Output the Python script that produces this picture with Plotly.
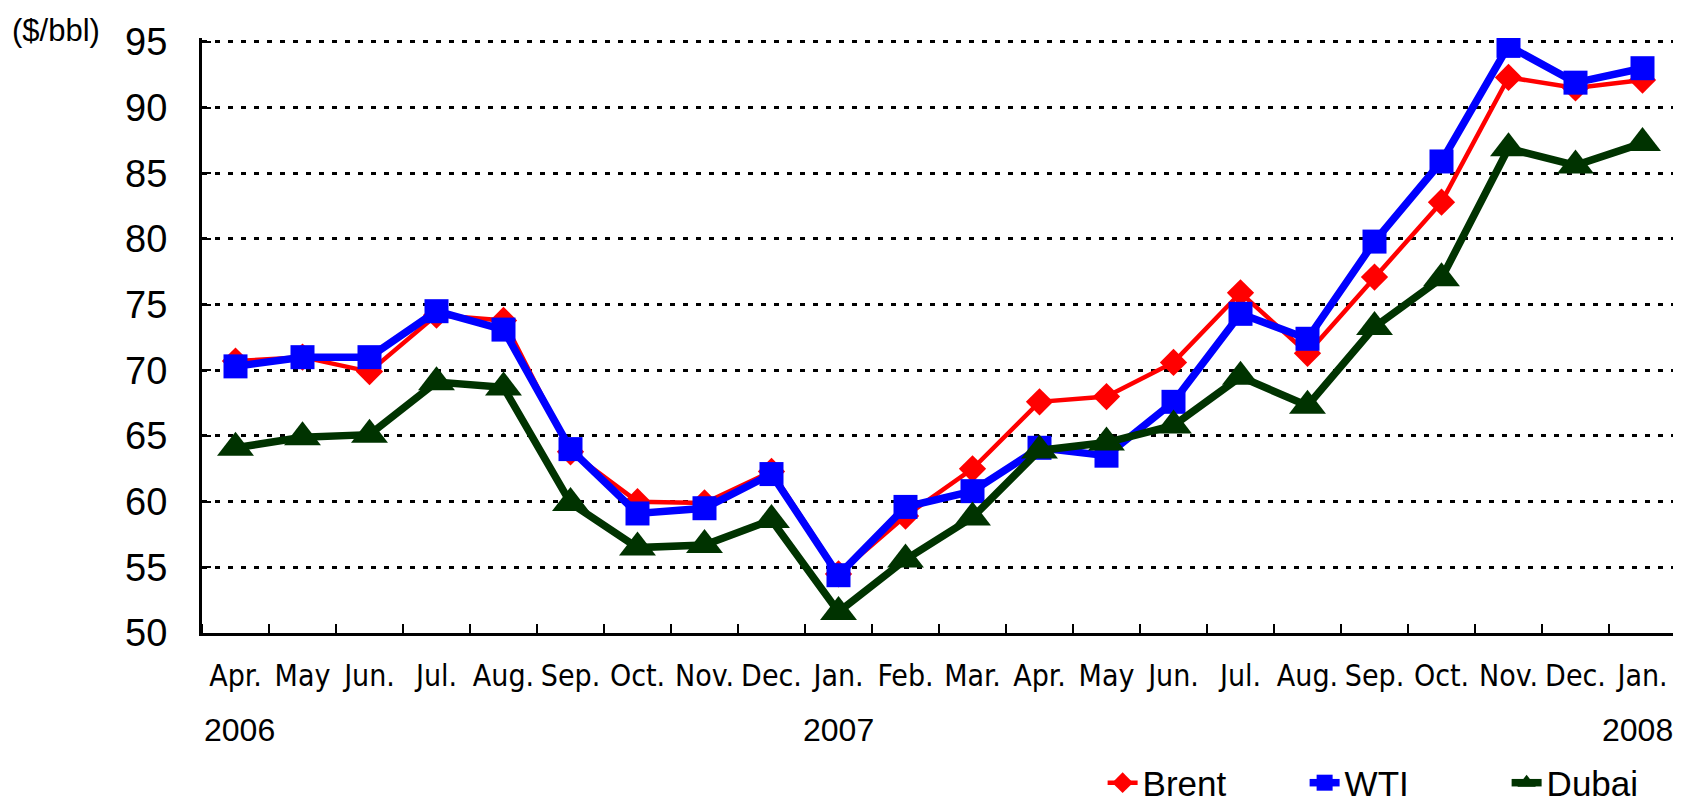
import plotly.graph_objects as go

months = ["Apr.", "May", "Jun.", "Jul.", "Aug.", "Sep.", "Oct.", "Nov.", "Dec.",
          "Jan.", "Feb.", "Mar.", "Apr.", "May", "Jun.", "Jul.", "Aug.", "Sep.",
          "Oct.", "Nov.", "Dec.", "Jan."]
years = {"2006": 0, "2007": 9, "2008": 21}

brent = [70.7, 71.0, 69.9, 74.2, 73.8, 63.8, 60.0, 59.9, 62.3, 54.5, 58.9,
         62.5, 67.6, 68.0, 70.6, 75.9, 71.3, 77.1, 82.8, 92.3, 91.5, 92.1]
wti = [70.3, 71.0, 71.0, 74.5, 73.1, 64.0, 59.1, 59.5, 62.1, 54.4, 59.6,
       60.8, 64.1, 63.5, 67.6, 74.3, 72.4, 79.8, 85.9, 94.7, 91.9, 93.0]
dubai = [64.1, 64.9, 65.1, 69.1, 68.7, 59.9, 56.5, 56.7, 58.6, 51.6, 55.6,
         58.8, 63.9, 64.5, 65.8, 69.5, 67.3, 73.3, 77.0, 86.9, 85.6, 87.3]

x = list(range(len(months)))
FONT = "Liberation Sans, Arial, sans-serif"
NARROW = "Liberation Sans Narrow, Arial Narrow, DejaVu Sans Condensed, Liberation Sans, sans-serif"

fig = go.Figure()
fig.add_trace(go.Scatter(x=x, y=brent, name="Brent", mode="lines+markers",
                         line=dict(color="#FF0000", width=4.5),
                         marker=dict(symbol="diamond", size=21, color="#FF0000")))
fig.add_trace(go.Scatter(x=x, y=wti, name="WTI", mode="lines+markers",
                         line=dict(color="#0000FF", width=7.5),
                         marker=dict(symbol="square", size=24, color="#0000FF")))
fig.add_trace(go.Scatter(x=x, y=dubai, name="Dubai", mode="lines+markers",
                         line=dict(color="#003300", width=7.5),
                         marker=dict(symbol="triangle-up", size=32, color="#003300")))

# page has an 8px body margin; figure size compensates for it
fig.update_layout(
    width=1673, height=797,
    margin=dict(l=194, r=5, t=30, b=172, autoexpand=False),
    paper_bgcolor="white", plot_bgcolor="white",
    font=dict(family=FONT, color="black"),
    showlegend=True,
    legend=dict(orientation="h", x=0.611, xanchor="left", y=-0.252, yanchor="middle",
                font=dict(size=35, family=FONT), entrywidth=157,
                bgcolor="rgba(0,0,0,0)"),
    xaxis=dict(range=[-0.5, len(months) - 0.5], tickmode="array", tickvals=x,
               ticktext=months, ticks="", showgrid=False, zeroline=False,
               showline=True, linecolor="black", linewidth=3,
               tickfont=dict(size=30, family=NARROW), ticklabelstandoff=14,
               minor=dict(tick0=-0.5, dtick=1, ticks="inside", ticklen=9,
                          tickwidth=2, tickcolor="black", showgrid=False)),
    yaxis=dict(range=[50, 95.3], tickvals=[50, 55, 60, 65, 70, 75, 80, 85, 90, 95],
               ticks="inside", ticklen=9,
               tickwidth=2, tickcolor="black", showline=True, linecolor="black",
               linewidth=3, zeroline=False, showgrid=True, gridcolor="black",
               gridwidth=3, griddash="5px,8px",
               tickfont=dict(size=38, family=FONT), ticklabelstandoff=24),
)

annotations = [dict(text="($/bbl)", xref="paper", yref="paper", x=-0.130, y=1.013,
                    xanchor="left", yanchor="middle", showarrow=False,
                    font=dict(size=31, family=FONT))]
for label, idx in years.items():
    if idx == 0:
        annotations.append(dict(text=label, xref="paper", x=0, xanchor="left"))
    elif idx == len(months) - 1:
        annotations.append(dict(text=label, xref="paper", x=0.999, xanchor="right"))
    else:
        annotations.append(dict(text=label, xref="x", x=idx, xanchor="center"))
for a in annotations[1:]:
    a.update(yref="paper", y=-0.163, yanchor="middle", showarrow=False,
             font=dict(size=32, family=FONT))
fig.update_layout(annotations=annotations)

fig.write_html("out.html")
